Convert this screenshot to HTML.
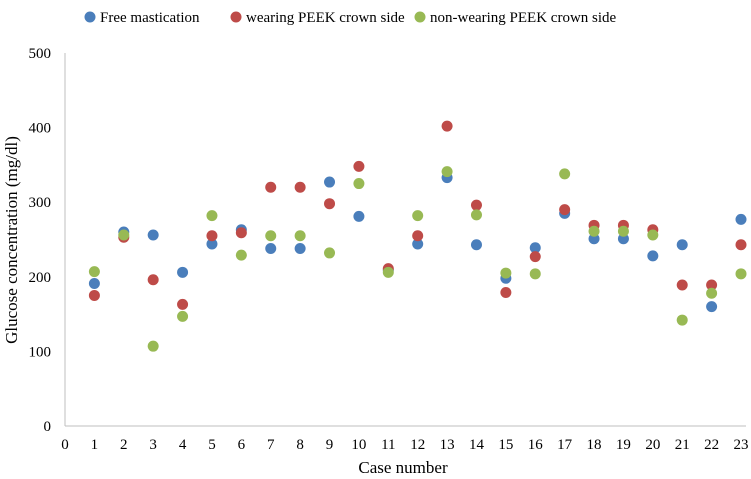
<!DOCTYPE html>
<html><head><meta charset="utf-8"><style>
body{margin:0;background:#fff;}
svg{display:block;font-family:"Liberation Serif",serif;}
</style></head><body>
<svg id="chart" width="751" height="479"></svg>
<script>
const categories=[1,2,3,4,5,6,7,8,9,10,11,12,13,14,15,16,17,18,19,20,21,22,23];
const freeMastication=[191,260,256,206,244,263,238,238,327,281,209,244,333,243,198,239,285,251,251,228,243,160,277];
const wearingSide=[175,253,196,163,255,259,320,320,298,348,211,255,402,296,179,227,290,269,269,263,189,189,243];
const nonWearingSide=[207,256,107,147,282,229,255,255,232,325,206,282,341,283,205,204,338,261,261,256,142,178,204];
const yTicks=[0,100,200,300,400,500];
const xTicks=[0,1,2,3,4,5,6,7,8,9,10,11,12,13,14,15,16,17,18,19,20,21,22,23];
const NS="http://www.w3.org/2000/svg";
const svg=document.getElementById('chart');
const X0=65,X1=741,Y0=426,Y1=53;
const xs=v=>X0+(X1-X0)*v/23;
const ys=v=>Y0-(Y0-Y1)*v/500;
function mk(t,a,p){const e=document.createElementNS(NS,t);for(const k in a)e.setAttribute(k,a[k]);(p||svg).appendChild(e);return e;}
const axisY=mk('line',{x1:X0,y1:Y1,x2:X0,y2:Y0,stroke:'#bfbfbf','stroke-width':1});


const axisX=mk('line',{x1:X0,y1:Y0,x2:X1+5,y2:Y0,stroke:'#bfbfbf','stroke-width':1});


yTicks.forEach(v=>{const t=mk('text',{x:51,y:ys(v)+5,'text-anchor':'end','font-size':15,fill:'#000'});t.textContent=v;

});
xTicks.forEach(v=>{const t=mk('text',{x:xs(v),y:Y0+23,'text-anchor':'middle','font-size':15,fill:'#000'});t.textContent=v;

});
const xt=mk('text',{x:403,y:473,'text-anchor':'middle','font-size':17});xt.textContent='Case number';


const yt=mk('text',{x:0,y:0,'text-anchor':'middle','font-size':17,transform:'translate(17,240) rotate(-90)'});yt.textContent='Glucose concentration (mg/dl)';


const series=[[freeMastication,'#4a7ebb','free-mastication'],[wearingSide,'#be4b48','wearing-peek-side'],[nonWearingSide,'#98b954','non-wearing-peek-side']];
series.forEach(([arr,c,n])=>{arr.forEach((v,i)=>{const d=mk('circle',{cx:xs(categories[i]),cy:ys(v),r:5.5,fill:c});

});});
const legend=[['Free mastication','#4a7ebb',90],['wearing PEEK crown side','#be4b48',236],['non-wearing PEEK crown side','#98b954',420]];
legend.forEach(([l,c,x])=>{const g=mk('g',{});


mk('circle',{cx:x,cy:17,r:5.5,fill:c},g);const t=mk('text',{x:x+10,y:22,'font-size':15},g);t.textContent=l;});
</script>
</body></html>
